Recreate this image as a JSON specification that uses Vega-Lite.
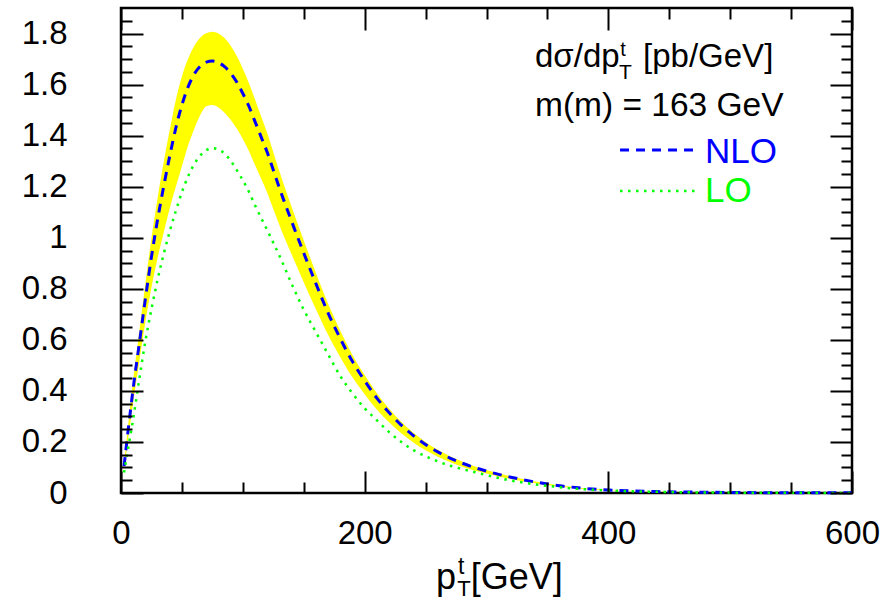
{
  "$schema": "https://vega.github.io/schema/vega-lite/v6.json",
  "width": 731,
  "height": 485,
  "autosize": "none",
  "padding": {"left": 121, "top": 8, "right": 44, "bottom": 107},
  "background": "white",
  "config": {
    "font": "Liberation Sans",
    "view": {"stroke": "black", "strokeWidth": 2.5},
    "text": {"font": "Liberation Sans"}
  },
  "data": {
    "values": [
      {"pt": 2.5, "nlo": 0.105, "lo": 0.08, "low": 0.09, "up": 0.113},
      {"pt": 5, "nlo": 0.21, "lo": 0.15, "low": 0.18, "up": 0.227},
      {"pt": 10, "nlo": 0.41, "lo": 0.29, "low": 0.355, "up": 0.443},
      {"pt": 15, "nlo": 0.585, "lo": 0.445, "low": 0.515, "up": 0.632},
      {"pt": 20, "nlo": 0.76, "lo": 0.595, "low": 0.67, "up": 0.82},
      {"pt": 25, "nlo": 0.925, "lo": 0.72, "low": 0.805, "up": 0.998},
      {"pt": 30, "nlo": 1.07, "lo": 0.835, "low": 0.92, "up": 1.155},
      {"pt": 35, "nlo": 1.2, "lo": 0.935, "low": 1.02, "up": 1.295},
      {"pt": 40, "nlo": 1.32, "lo": 1.025, "low": 1.115, "up": 1.422},
      {"pt": 45, "nlo": 1.43, "lo": 1.105, "low": 1.2, "up": 1.54},
      {"pt": 50, "nlo": 1.52, "lo": 1.178, "low": 1.28, "up": 1.632},
      {"pt": 55, "nlo": 1.59, "lo": 1.24, "low": 1.36, "up": 1.7},
      {"pt": 60, "nlo": 1.64, "lo": 1.287, "low": 1.425, "up": 1.75},
      {"pt": 65, "nlo": 1.672, "lo": 1.322, "low": 1.48, "up": 1.783},
      {"pt": 70, "nlo": 1.688, "lo": 1.343, "low": 1.515, "up": 1.801},
      {"pt": 75, "nlo": 1.692, "lo": 1.351, "low": 1.52, "up": 1.807},
      {"pt": 80, "nlo": 1.686, "lo": 1.346, "low": 1.51, "up": 1.8},
      {"pt": 85, "nlo": 1.67, "lo": 1.33, "low": 1.49, "up": 1.782},
      {"pt": 90, "nlo": 1.645, "lo": 1.302, "low": 1.462, "up": 1.752},
      {"pt": 95, "nlo": 1.61, "lo": 1.265, "low": 1.428, "up": 1.712},
      {"pt": 100, "nlo": 1.565, "lo": 1.225, "low": 1.387, "up": 1.662},
      {"pt": 105, "nlo": 1.515, "lo": 1.18, "low": 1.34, "up": 1.605},
      {"pt": 110, "nlo": 1.455, "lo": 1.127, "low": 1.285, "up": 1.542},
      {"pt": 115, "nlo": 1.395, "lo": 1.078, "low": 1.232, "up": 1.476},
      {"pt": 120, "nlo": 1.335, "lo": 1.03, "low": 1.176, "up": 1.41},
      {"pt": 125, "nlo": 1.265, "lo": 0.98, "low": 1.113, "up": 1.335},
      {"pt": 130, "nlo": 1.195, "lo": 0.93, "low": 1.05, "up": 1.26},
      {"pt": 140, "nlo": 1.065, "lo": 0.82, "low": 0.935, "up": 1.121},
      {"pt": 150, "nlo": 0.94, "lo": 0.718, "low": 0.826, "up": 0.989},
      {"pt": 160, "nlo": 0.82, "lo": 0.63, "low": 0.72, "up": 0.862},
      {"pt": 170, "nlo": 0.705, "lo": 0.543, "low": 0.62, "up": 0.741},
      {"pt": 180, "nlo": 0.605, "lo": 0.458, "low": 0.532, "up": 0.636},
      {"pt": 190, "nlo": 0.515, "lo": 0.39, "low": 0.453, "up": 0.541},
      {"pt": 200, "nlo": 0.44, "lo": 0.332, "low": 0.387, "up": 0.462},
      {"pt": 210, "nlo": 0.372, "lo": 0.285, "low": 0.327, "up": 0.391},
      {"pt": 220, "nlo": 0.315, "lo": 0.239, "low": 0.277, "up": 0.331},
      {"pt": 230, "nlo": 0.266, "lo": 0.2, "low": 0.234, "up": 0.279},
      {"pt": 240, "nlo": 0.225, "lo": 0.168, "low": 0.198, "up": 0.236},
      {"pt": 250, "nlo": 0.19, "lo": 0.144, "low": 0.167, "up": 0.2},
      {"pt": 260, "nlo": 0.161, "lo": 0.124, "low": 0.142, "up": 0.169},
      {"pt": 270, "nlo": 0.137, "lo": 0.107, "low": 0.121, "up": 0.144},
      {"pt": 280, "nlo": 0.117, "lo": 0.094, "low": 0.103, "up": 0.123},
      {"pt": 290, "nlo": 0.1, "lo": 0.082, "low": 0.088, "up": 0.105},
      {"pt": 300, "nlo": 0.086, "lo": 0.07, "low": 0.076, "up": 0.09},
      {"pt": 310, "nlo": 0.073, "lo": 0.059, "low": 0.064, "up": 0.077},
      {"pt": 320, "nlo": 0.062, "lo": 0.049, "low": 0.055, "up": 0.065},
      {"pt": 330, "nlo": 0.052, "lo": 0.041, "low": 0.046, "up": 0.055},
      {"pt": 340, "nlo": 0.043, "lo": 0.034, "low": 0.038, "up": 0.045},
      {"pt": 350, "nlo": 0.035, "lo": 0.028, "low": 0.031, "up": 0.037},
      {"pt": 360, "nlo": 0.028, "lo": 0.023, "low": 0.025, "up": 0.029},
      {"pt": 370, "nlo": 0.023, "lo": 0.018, "low": 0.02, "up": 0.024},
      {"pt": 380, "nlo": 0.018, "lo": 0.015, "low": 0.016, "up": 0.019},
      {"pt": 390, "nlo": 0.015, "lo": 0.012, "low": 0.013, "up": 0.016},
      {"pt": 400, "nlo": 0.012, "lo": 0.01, "low": 0.0105, "up": 0.013},
      {"pt": 420, "nlo": 0.008, "lo": 0.0065, "low": 0.007, "up": 0.0084},
      {"pt": 440, "nlo": 0.0055, "lo": 0.0045, "low": 0.0048, "up": 0.0058},
      {"pt": 460, "nlo": 0.004, "lo": 0.003, "low": 0.0035, "up": 0.0042},
      {"pt": 480, "nlo": 0.003, "lo": 0.002, "low": 0.0026, "up": 0.0032},
      {"pt": 500, "nlo": 0.002, "lo": 0.0015, "low": 0.0018, "up": 0.0021},
      {"pt": 550, "nlo": 0.001, "lo": 0.0007, "low": 0.0009, "up": 0.00105},
      {"pt": 600, "nlo": 0.0005, "lo": 0.0003, "low": 0.00044, "up": 0.00053}
    ]
  },
  "resolve": {"axis": {"x": "independent", "y": "independent"}},
  "layer": [
    {
      "mark": {"type": "area", "color": "#ffff00", "interpolate": "monotone", "opacity": 1},
      "encoding": {
        "x": {"field": "pt", "type": "quantitative",
          "scale": {"domain": [0, 600], "nice": false, "zero": false},
          "axis": {"orient": "bottom", "values": [0, 200, 400, 600], "format": "d", "tickSize": -22, "tickWidth": 2, "tickColor": "black", "domain": false, "grid": false, "title": null, "labelFont": "Liberation Sans", "labelFontSize": 33, "labelColor": "black", "labelPadding": 46, "labelFlush": false, "labelOverlap": false, "zindex": 1}},
        "y": {"field": "low", "type": "quantitative",
          "scale": {"domain": [0, 1.9], "nice": false, "zero": false},
          "axis": {"orient": "left", "values": [0, 0.2, 0.4, 0.6, 0.8, 1, 1.2, 1.4, 1.6, 1.8], "format": "~g", "tickSize": -22, "tickWidth": 2, "tickColor": "black", "domain": false, "grid": false, "title": null, "labelFont": "Liberation Sans", "labelFontSize": 33, "labelColor": "black", "labelPadding": 76, "labelFlush": false, "labelOverlap": false, "zindex": 1}},
        "y2": {"field": "up"}
      }
    },
    {
      "mark": {"type": "line", "color": "#0000ff", "strokeWidth": 3, "strokeDash": [9, 7], "interpolate": "monotone"},
      "encoding": {
        "x": {"field": "pt", "type": "quantitative",
          "axis": {"orient": "bottom", "values": [50, 100, 150, 250, 300, 350, 450, 500, 550], "tickSize": -11, "tickWidth": 2, "tickColor": "black", "labels": false, "domain": false, "grid": false, "title": null, "zindex": 1}},
        "y": {"field": "nlo", "type": "quantitative",
          "axis": {"orient": "left", "values": [0.05, 0.1, 0.15, 0.25, 0.3, 0.35, 0.45, 0.5, 0.55, 0.65, 0.7, 0.75, 0.85, 0.9, 0.95, 1.05, 1.1, 1.15, 1.25, 1.3, 1.35, 1.45, 1.5, 1.55, 1.65, 1.7, 1.75, 1.85], "tickSize": -11, "tickWidth": 2, "tickColor": "black", "labels": false, "domain": false, "grid": false, "title": null, "zindex": 1}}
      }
    },
    {
      "mark": {"type": "line", "color": "#00ff00", "strokeWidth": 2.5, "strokeDash": [2.5, 5.5], "interpolate": "monotone"},
      "encoding": {
        "x": {"field": "pt", "type": "quantitative",
          "axis": {"orient": "top", "values": [0, 200, 400, 600], "tickSize": -22, "tickWidth": 2, "tickColor": "black", "labels": false, "domain": false, "grid": false, "title": null, "zindex": 1}},
        "y": {"field": "lo", "type": "quantitative",
          "axis": {"orient": "right", "values": [0, 0.2, 0.4, 0.6, 0.8, 1, 1.2, 1.4, 1.6, 1.8], "tickSize": -22, "tickWidth": 2, "tickColor": "black", "labels": false, "domain": false, "grid": false, "title": null, "zindex": 1}}
      }
    },
    {
      "data": {"values": [{"series": "NLO"}]},
      "mark": {"type": "rule", "color": "#0000ff", "strokeWidth": 3, "strokeDash": [9, 7]},
      "encoding": {
        "x": {"datum": 409.6, "type": "quantitative",
          "axis": {"orient": "top", "values": [50, 100, 150, 250, 300, 350, 450, 500, 550], "tickSize": -11, "tickWidth": 2, "tickColor": "black", "labels": false, "domain": false, "grid": false, "title": null, "zindex": 1}},
        "x2": {"datum": 469.5},
        "y": {"datum": 1.344, "type": "quantitative",
          "axis": {"orient": "right", "values": [0.05, 0.1, 0.15, 0.25, 0.3, 0.35, 0.45, 0.5, 0.55, 0.65, 0.7, 0.75, 0.85, 0.9, 0.95, 1.05, 1.1, 1.15, 1.25, 1.3, 1.35, 1.45, 1.5, 1.55, 1.65, 1.7, 1.75, 1.85], "tickSize": -11, "tickWidth": 2, "tickColor": "black", "labels": false, "domain": false, "grid": false, "title": null, "zindex": 1}}
      }
    },
    {
      "data": {"values": [{"series": "LO"}]},
      "mark": {"type": "rule", "color": "#00ff00", "strokeWidth": 2.5, "strokeDash": [2.5, 5.5]},
      "encoding": {
        "x": {"datum": 409.6, "type": "quantitative", "axis": null},
        "x2": {"datum": 472.8},
        "y": {"datum": 1.183, "type": "quantitative", "axis": null}
      }
    },
    {
      "data": {"values": [{"label": "dσ/dp"}]},
      "mark": {"type": "text", "align": "left", "baseline": "alphabetic", "fontSize": 33, "color": "black"},
      "encoding": {
        "x": {"datum": 339.8, "type": "quantitative", "axis": null},
        "y": {"datum": 1.67, "type": "quantitative", "axis": null},
        "text": {"field": "label"}
      }
    },
    {
      "data": {"values": [{"label": "t"}]},
      "mark": {"type": "text", "align": "left", "baseline": "alphabetic", "fontSize": 20, "color": "black"},
      "encoding": {
        "x": {"datum": 409.8, "type": "quantitative", "axis": null},
        "y": {"datum": 1.712, "type": "quantitative", "axis": null},
        "text": {"field": "label"}
      }
    },
    {
      "data": {"values": [{"label": "T"}]},
      "mark": {"type": "text", "align": "left", "baseline": "alphabetic", "fontSize": 21, "color": "black"},
      "encoding": {
        "x": {"datum": 408.8, "type": "quantitative", "axis": null},
        "y": {"datum": 1.62, "type": "quantitative", "axis": null},
        "text": {"field": "label"}
      }
    },
    {
      "data": {"values": [{"label": "[pb/GeV]"}]},
      "mark": {"type": "text", "align": "left", "baseline": "alphabetic", "fontSize": 33, "color": "black"},
      "encoding": {
        "x": {"datum": 428.5, "type": "quantitative", "axis": null},
        "y": {"datum": 1.67, "type": "quantitative", "axis": null},
        "text": {"field": "label"}
      }
    },
    {
      "data": {"values": [{"label": "m(m) = 163 GeV"}]},
      "mark": {"type": "text", "align": "left", "baseline": "alphabetic", "fontSize": 33.5, "color": "black"},
      "encoding": {
        "x": {"datum": 339.8, "type": "quantitative", "axis": null},
        "y": {"datum": 1.477, "type": "quantitative", "axis": null},
        "text": {"field": "label"}
      }
    },
    {
      "data": {"values": [{"label": "NLO"}]},
      "mark": {"type": "text", "align": "left", "baseline": "alphabetic", "fontSize": 35, "color": "#0000ff"},
      "encoding": {
        "x": {"datum": 479.4, "type": "quantitative", "axis": null},
        "y": {"datum": 1.293, "type": "quantitative", "axis": null},
        "text": {"field": "label"}
      }
    },
    {
      "data": {"values": [{"label": "LO"}]},
      "mark": {"type": "text", "align": "left", "baseline": "alphabetic", "fontSize": 35, "color": "#00ff00"},
      "encoding": {
        "x": {"datum": 479.4, "type": "quantitative", "axis": null},
        "y": {"datum": 1.14, "type": "quantitative", "axis": null},
        "text": {"field": "label"}
      }
    },
    {
      "data": {"values": [{"label": "p"}]},
      "mark": {"type": "text", "align": "left", "baseline": "alphabetic", "fontSize": 36, "color": "black"},
      "encoding": {
        "x": {"datum": 258.5, "type": "quantitative", "axis": null},
        "y": {"datum": -0.376, "type": "quantitative", "axis": null},
        "text": {"field": "label"}
      }
    },
    {
      "data": {"values": [{"label": "t"}]},
      "mark": {"type": "text", "align": "left", "baseline": "alphabetic", "fontSize": 23, "color": "black"},
      "encoding": {
        "x": {"datum": 276.6, "type": "quantitative", "axis": null},
        "y": {"datum": -0.318, "type": "quantitative", "axis": null},
        "text": {"field": "label"}
      }
    },
    {
      "data": {"values": [{"label": "T"}]},
      "mark": {"type": "text", "align": "left", "baseline": "alphabetic", "fontSize": 22, "color": "black"},
      "encoding": {
        "x": {"datum": 276.0, "type": "quantitative", "axis": null},
        "y": {"datum": -0.405, "type": "quantitative", "axis": null},
        "text": {"field": "label"}
      }
    },
    {
      "data": {"values": [{"label": "[GeV]"}]},
      "mark": {"type": "text", "align": "left", "baseline": "alphabetic", "fontSize": 36, "color": "black"},
      "encoding": {
        "x": {"datum": 287.0, "type": "quantitative", "axis": null},
        "y": {"datum": -0.376, "type": "quantitative", "axis": null},
        "text": {"field": "label"}
      }
    }
  ]
}
